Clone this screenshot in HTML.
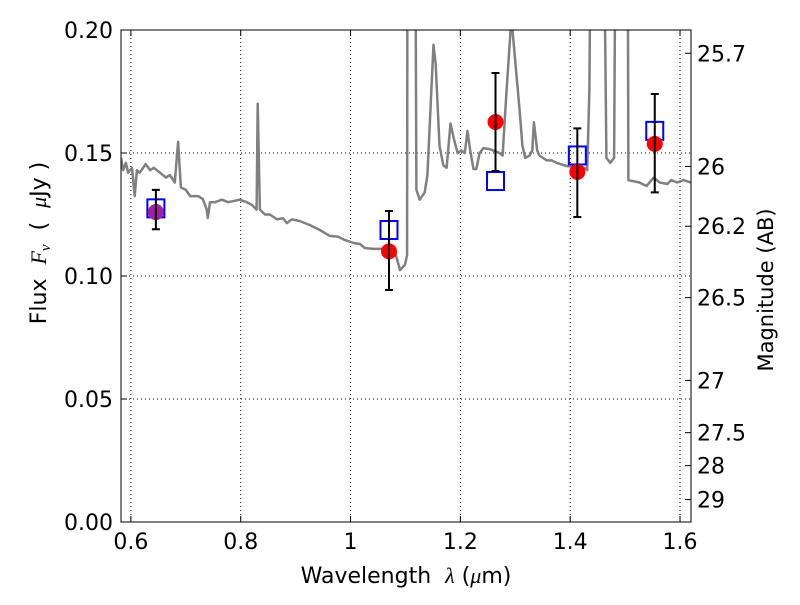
<!DOCTYPE html>
<html><head><meta charset="utf-8"><style>
html,body{margin:0;padding:0;background:#fff;}
svg text{font-family:"DejaVu Sans","Liberation Sans",sans-serif;}
</style></head><body>
<svg id="chart" width="800" height="600" viewBox="0 0 800 600" xmlns="http://www.w3.org/2000/svg">
<rect width="800" height="600" fill="#fff"/>
<defs><clipPath id="plotclip"><rect x="121" y="30" width="570" height="492"/></clipPath></defs>
<g id="grid"></g>
<g id="spec" clip-path="url(#plotclip)"></g>
<g id="marks"></g>
<rect x="121" y="30" width="570" height="492" fill="none" stroke="#000" stroke-width="1"/>
<g id="axes"></g>
<text x="406" y="583" font-size="22" text-anchor="middle" xml:space="preserve">Wavelength  <tspan font-family="Liberation Serif" font-style="italic">λ</tspan> (<tspan font-family="Liberation Serif" font-style="italic">μ</tspan>m)</text>
<text transform="translate(46,243) rotate(-90)" font-size="22" text-anchor="middle" xml:space="preserve">Flux  <tspan font-family="Liberation Serif" font-style="italic">F<tspan font-size="15" dy="4">ν</tspan></tspan><tspan dy="-4">  (  </tspan><tspan font-family="Liberation Serif" font-style="italic">μ</tspan>Jy )</text>
<text transform="translate(773,290) rotate(-90)" font-size="21" text-anchor="middle">Magnitude (AB)</text>
</svg>
<script>
const xTicks=[0.6,0.8,1.0,1.2,1.4,1.6];
const xTickLabels=["0.6","0.8","1","1.2","1.4","1.6"];
const yTicks=[0,0.05,0.10,0.15,0.20];
const yTickLabels=["0.00","0.05","0.10","0.15","0.20"];
const magTicks=[25.7,26,26.2,26.5,27,27.5,28,29];
const magTickLabels=["25.7","26","26.2","26.5","27","27.5","28","29"];
const specWave=[0.582,0.586,0.591,0.595,0.602,0.607,0.611,0.616,0.627,0.635,0.642,0.653,0.664,0.671,0.680,0.686,0.691,0.700,0.708,0.722,0.731,0.738,0.740,0.744,0.753,0.766,0.777,0.798,0.811,0.820,0.829,0.831,0.835,0.844,0.853,0.866,0.877,0.884,0.893,0.908,0.926,0.944,0.962,0.977,0.990,1.006,1.017,1.026,1.041,1.062,1.080,1.090,1.099,1.103,1.104,1.110,1.117,1.120,1.126,1.135,1.140,1.151,1.155,1.162,1.169,1.175,1.182,1.189,1.195,1.202,1.208,1.213,1.218,1.224,1.229,1.235,1.242,1.253,1.271,1.277,1.284,1.293,1.302,1.308,1.313,1.318,1.326,1.331,1.334,1.340,1.344,1.357,1.366,1.375,1.393,1.411,1.426,1.431,1.435,1.439,1.443,1.459,1.466,1.473,1.480,1.484,1.500,1.504,1.506,1.526,1.539,1.552,1.563,1.577,1.584,1.595,1.606,1.620];
const specFlux=[0.148,0.143,0.146,0.142,0.144,0.1325,0.143,0.142,0.1455,0.143,0.144,0.142,0.140,0.141,0.138,0.1545,0.136,0.135,0.1325,0.1325,0.1313,0.127,0.1236,0.130,0.130,0.131,0.130,0.131,0.130,0.129,0.127,0.170,0.127,0.125,0.125,0.123,0.1235,0.1215,0.123,0.1223,0.1207,0.1187,0.1163,0.116,0.1146,0.1134,0.113,0.1114,0.111,0.111,0.1106,0.1024,0.1045,0.1085,0.30,0.30,0.30,0.135,0.131,0.134,0.141,0.194,0.186,0.153,0.145,0.144,0.162,0.155,0.150,0.151,0.150,0.159,0.151,0.1435,0.1435,0.150,0.152,0.1516,0.150,0.149,0.175,0.205,0.182,0.167,0.153,0.148,0.149,0.151,0.1625,0.151,0.149,0.147,0.147,0.146,0.1447,0.1443,0.144,0.143,0.1756,0.30,0.30,0.30,0.148,0.146,0.148,0.30,0.30,0.30,0.139,0.138,0.1366,0.140,0.138,0.1374,0.139,0.138,0.139,0.138];
const photWave=[0.6455,1.070,1.264,1.413,1.554];
const photFlux=[0.126,0.110,0.1626,0.1423,0.1537];
const errHigh=[0.135,0.1264,0.1825,0.160,0.174];
const errLow=[0.119,0.0943,0.1427,0.124,0.134];
const modelWave=[0.6455,1.070,1.264,1.413,1.554];
const modelFlux=[0.1275,0.1187,0.1386,0.149,0.159];
const pointColors=["#a020a0","red","red","red","red"];

const X0=121,X1=691,Y0=522,Y1=30,XMIN=0.582,XMAX=1.62,YMIN=0,YMAX=0.2;
const sx=v=>X0+(v-XMIN)/(XMAX-XMIN)*(X1-X0);
const sy=v=>Y0-(v-YMIN)/(YMAX-YMIN)*(Y0-Y1);
const magToFlux=m=>Math.pow(10,(23.9-m)/2.5);
const NS="http://www.w3.org/2000/svg";
function mk(tag,attrs,parent){const e=document.createElementNS(NS,tag);for(const k in attrs)e.setAttribute(k,attrs[k]);parent.appendChild(e);return e;}
const grid=document.getElementById('grid'),axes=document.getElementById('axes'),spec=document.getElementById('spec'),marks=document.getElementById('marks');

xTicks.forEach((t,i)=>{const x=sx(t);
 const g=mk('line',{x1:x,x2:x,y1:Y1,y2:Y0,stroke:'#000','stroke-width':1,'stroke-dasharray':'1,3'},grid);
 
 
 mk('line',{x1:x,x2:x,y1:Y0,y2:Y0-6,stroke:'#000'},axes);
 mk('line',{x1:x,x2:x,y1:Y1,y2:Y1+6,stroke:'#000'},axes);
 const tx=mk('text',{x:x,y:Y0+27,'font-size':22,'text-anchor':'middle'},axes);tx.textContent=xTickLabels[i];
 
 
});
yTicks.forEach((t,i)=>{const y=sy(t);
 const g=mk('line',{x1:X0,x2:X1,y1:y,y2:y,stroke:'#000','stroke-width':1,'stroke-dasharray':'1,3'},grid);
 
 
 mk('line',{x1:X0,x2:X0+6,y1:y,y2:y,stroke:'#000'},axes);
 const tx=mk('text',{x:X0-8,y:y+8,'font-size':22,'text-anchor':'end'},axes);tx.textContent=yTickLabels[i];
 
 
});
magTicks.forEach((m,i)=>{const y=sy(magToFlux(m));
 mk('line',{x1:X1,x2:X1-6,y1:y,y2:y,stroke:'#000'},axes);
 const tx=mk('text',{x:X1+6,y:y+8,'font-size':22,'text-anchor':'start'},axes);tx.textContent=magTickLabels[i];
 
 
});
let d='';specWave.forEach((w,i)=>{d+=(i?'L':'M')+sx(w).toFixed(1)+','+sy(specFlux[i]).toFixed(1);});
const sp=mk('path',{d:d,fill:'none',stroke:'#808080','stroke-width':2.5,'stroke-linejoin':'round'},spec);



modelWave.forEach((w,i)=>{const x=sx(w),y=sy(modelFlux[i]);
 const r=mk('rect',{x:x-8.5,y:y-9,width:17,height:18,fill:'none',stroke:'#0000ff','stroke-width':2},marks);
 
 
});
photWave.forEach((w,i)=>{const x=sx(w);
 const c=mk('circle',{cx:x,cy:sy(photFlux[i]),r:8,fill:pointColors[i]},marks);
 
 
 const e=mk('path',{d:`M${x},${sy(errHigh[i])}V${sy(errLow[i])}M${x-4},${sy(errHigh[i])}h8M${x-4},${sy(errLow[i])}h8`,stroke:'#000','stroke-width':2,fill:'none'},marks);
 
 
});
</script>
</body></html>
